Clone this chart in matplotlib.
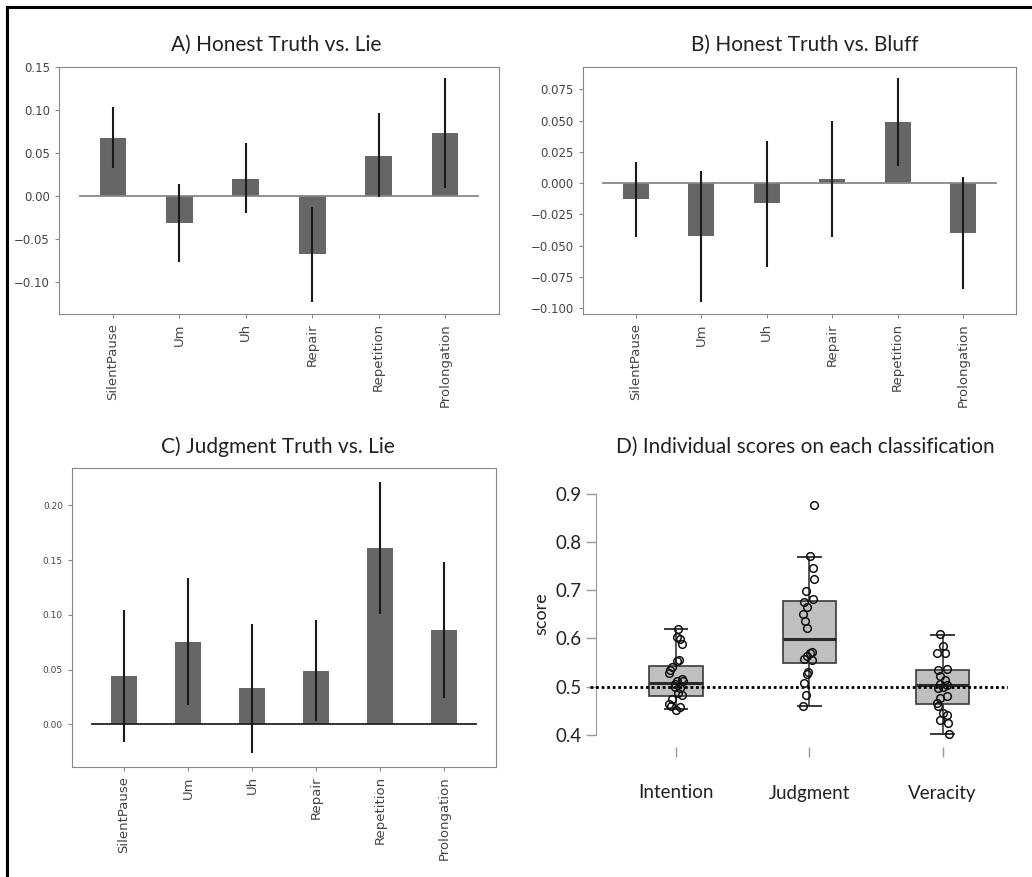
import numpy as np
import matplotlib
matplotlib.use("Agg")
import matplotlib.pyplot as plt
from matplotlib.lines import Line2D

# --- data ---
features = ["SilentPause", "Um", "Uh", "Repair", "Repetition", "Prolongation"]

a_mean = [0.068, -0.031, 0.020, -0.067, 0.047, 0.073]
a_lo = [0.033, -0.077, -0.020, -0.123, -0.001, 0.009]
a_hi = [0.103, 0.014, 0.062, -0.013, 0.097, 0.137]

b_mean = [-0.013, -0.042, -0.016, 0.003, 0.049, -0.040]
b_lo = [-0.043, -0.095, -0.067, -0.043, 0.014, -0.085]
b_hi = [0.017, 0.010, 0.034, 0.050, 0.084, 0.005]

c_mean = [0.044, 0.075, 0.033, 0.049, 0.161, 0.086]
c_lo = [-0.016, 0.018, -0.026, 0.003, 0.101, 0.024]
c_hi = [0.104, 0.134, 0.092, 0.095, 0.221, 0.148]

groups = ["Intention", "Judgment", "Veracity"]
box_q1 = [0.480, 0.548, 0.463]
box_med = [0.507, 0.598, 0.503]
box_q3 = [0.543, 0.678, 0.534]
box_wlo = [0.453, 0.460, 0.402]
box_whi = [0.620, 0.770, 0.608]

intention = [0.620, 0.602, 0.598, 0.588, 0.555, 0.553, 0.540, 0.535, 0.529, 0.515, 0.512,
             0.511, 0.505, 0.499, 0.496, 0.486, 0.482, 0.475, 0.463, 0.459, 0.458, 0.452]
intention_jit = [0.018, 0.010, 0.030, 0.043, 0.025, 0.005, -0.028, -0.045, -0.050, 0.043, 0.005,
                 0.050, -0.010, -0.008, 0.030, 0.018, 0.043, -0.033, -0.050, -0.038, 0.030, 0.000]
judgment = [0.878, 0.771, 0.746, 0.723, 0.699, 0.681, 0.676, 0.666, 0.651, 0.637, 0.622,
            0.572, 0.569, 0.563, 0.558, 0.555, 0.531, 0.527, 0.508, 0.482, 0.459]
judgment_jit = [0.035, 0.005, 0.030, 0.038, -0.027, 0.030, -0.037, -0.020, -0.045, -0.032, -0.015,
                0.023, 0.005, -0.020, -0.037, 0.018, -0.008, -0.020, -0.037, -0.027, -0.045]
veracity = [0.609, 0.584, 0.569, 0.569, 0.536, 0.534, 0.522, 0.513, 0.506, 0.503, 0.499,
            0.496, 0.480, 0.477, 0.466, 0.459, 0.444, 0.441, 0.430, 0.425, 0.401]
veracity_jit = [-0.020, 0.005, -0.045, 0.018, 0.035, -0.033, -0.020, 0.018, -0.020, 0.030, 0.005,
                -0.033, 0.035, -0.020, -0.045, -0.033, 0.005, 0.030, -0.020, 0.043, 0.050]

W, H = 1032, 877
fig = plt.figure(figsize=(W / 100, H / 100), dpi=100)
title_font = ["Lato", "DejaVu Sans"]


def px_axes(x0, y0, x1, y1):
    return fig.add_axes([x0 / W, 1 - y1 / H, (x1 - x0) / W, (y1 - y0) / H])


def bar_panel(ax, mean, lo, hi, ylim, zero_color, ytick_size):
    x = np.arange(len(features))
    mean = np.array(mean)
    yerr = [mean - np.array(lo), np.array(hi) - mean]
    ax.bar(x, mean, width=0.4, color="#666666", zorder=2)
    ax.errorbar(x, mean, yerr=yerr, fmt="none", ecolor="#1a1a1a", elinewidth=1.5, zorder=3)
    ax.plot([-0.5, len(features) - 0.5], [0, 0], color=zero_color, lw=1.3, zorder=2.5)
    ax.set_xlim(-0.81, 5.81)
    ax.set_ylim(*ylim)
    ax.set_xticks(x)
    ax.set_xticklabels(features, rotation=90, fontsize=9.5, color="#444444")
    for s in ax.spines.values():
        s.set_color("#888888")
    ax.tick_params(colors="#888888", labelcolor="#444444", length=3)
    ax.tick_params(axis="y", labelsize=ytick_size)


# A
axA = px_axes(59, 67, 499, 314)
bar_panel(axA, a_mean, a_lo, a_hi, (-0.137, 0.15), "#888888", 8.5)
axA.set_yticks([-0.10, -0.05, 0.00, 0.05, 0.10, 0.15])
fig.text(276 / W, 1 - 45 / H, "A) Honest Truth vs. Lie", ha="center", va="center",
         fontsize=15, family=title_font, color="#222222")

# B
axB = px_axes(583, 67, 1016, 314)
bar_panel(axB, b_mean, b_lo, b_hi, (-0.1048, 0.093), "#888888", 8.5)
axB.set_yticks([-0.100, -0.075, -0.050, -0.025, 0.000, 0.025, 0.050, 0.075])
fig.text(805 / W, 1 - 45 / H, "B) Honest Truth vs. Bluff", ha="center", va="center",
         fontsize=15, family=title_font, color="#222222")

# C
axC = px_axes(72, 468, 496, 767)
bar_panel(axC, c_mean, c_lo, c_hi, (-0.039, 0.234), "#222222", 6.5)
axC.set_yticks([0.00, 0.05, 0.10, 0.15, 0.20])
fig.text(278 / W, 1 - 447 / H, "C) Judgment Truth vs. Lie", ha="center", va="center",
         fontsize=15, family=title_font, color="#222222")

# D
axD = px_axes(590, 480, 1008, 747)
pos = [1, 2, 3]
stats = []
for i in range(3):
    stats.append({"med": box_med[i], "q1": box_q1[i], "q3": box_q3[i],
                  "whislo": box_wlo[i], "whishi": box_whi[i], "fliers": []})
axD.bxp(stats, positions=pos, widths=0.4, patch_artist=True, showfliers=False,
        boxprops=dict(facecolor="#bfbfbf", edgecolor="#3a3a3a", linewidth=1.2),
        medianprops=dict(color="#2a2a2a", linewidth=2.2),
        whiskerprops=dict(color="#3a3a3a", linewidth=1.2),
        capprops=dict(color="#3a3a3a", linewidth=1.4), capwidths=0.17)
axD.axhline(0.5, color="black", linestyle=(0, (1, 1)), lw=2.0, zorder=4)
for i, (vals, jit) in enumerate([(intention, intention_jit), (judgment, judgment_jit),
                                 (veracity, veracity_jit)]):
    axD.plot(pos[i] + np.array(jit), vals, "o", mfc="none", mec="#111111", ms=5.5,
             mew=1.1, zorder=5)
axD.set_xlim(0.355, 3.49)
axD.set_ylim(0.3744, 0.929)
for s in ["top", "right", "bottom"]:
    axD.spines[s].set_visible(False)
axD.spines["left"].set_position(("data", 0.4))
axD.spines["left"].set_bounds(0.4, 0.9)
axD.spines["left"].set_color("#999999")
axD.set_yticks([0.4, 0.5, 0.6, 0.7, 0.8, 0.9])
axD.set_yticklabels(["0.4", "0.5", "0.6", "0.7", "0.8", "0.9"], family=title_font, fontsize=13.5)
axD.set_xticks(pos)
axD.set_xticklabels(groups, family=title_font, fontsize=13.5)
axD.tick_params(axis="y", colors="#999999", labelcolor="#222222", length=7, width=1)
axD.tick_params(axis="x", colors="#999999", labelcolor="#222222", length=7, width=1, pad=20)
axD.set_ylabel("score", family=title_font, fontsize=13, color="#222222", labelpad=4)
fig.text(805 / W, 1 - 447 / H, "D) Individual scores on each classification", ha="center",
         va="center", fontsize=15, family=title_font, color="#222222")

# frame lines (left and top) of the screenshot
fig.add_artist(Line2D([7 / W, 7 / W], [0, 1 - 7 / H], color="black", lw=2.2))
fig.add_artist(Line2D([7 / W, 1], [1 - 7 / H, 1 - 7 / H], color="black", lw=2.2))

fig.savefig("out.png", dpi=100)
